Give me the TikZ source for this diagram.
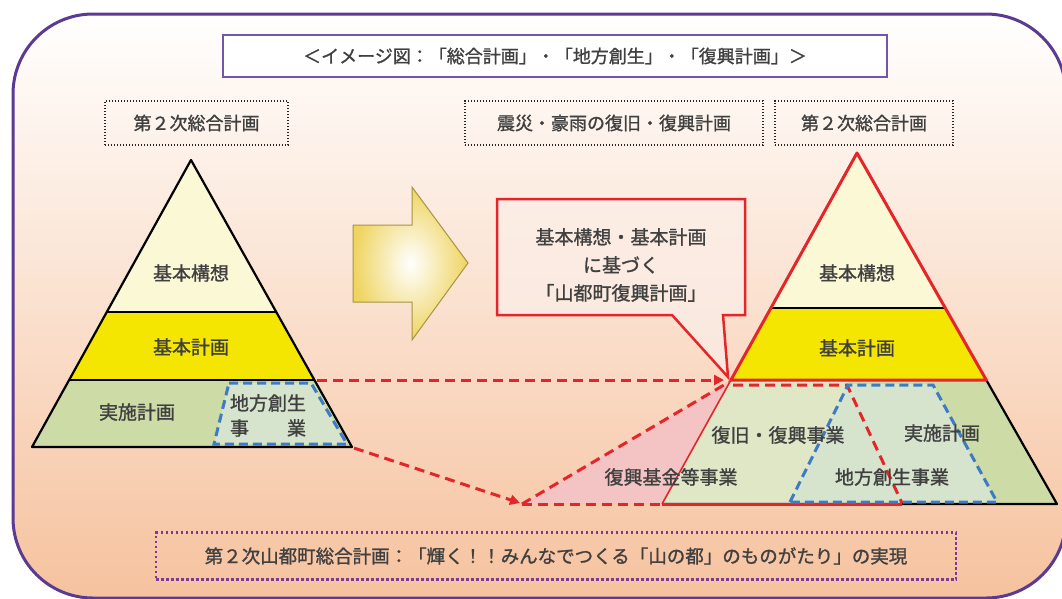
\documentclass[tikz,border=0pt]{standalone}
\usepackage{fontspec}
\setmainfont{Noto Sans CJK JP}[FakeBold=1.2]
\usetikzlibrary{calc,arrows.meta}
\definecolor{txt}{HTML}{404040}
\definecolor{frame}{HTML}{5B3A93}
\definecolor{tbox}{HTML}{7257A8}
\definecolor{cream}{HTML}{FBF8D6}
\definecolor{yel}{HTML}{F4E600}
\definecolor{grn}{HTML}{CDDCA6}
\definecolor{pgrn}{HTML}{DFE7C6}
\definecolor{bgrn}{HTML}{D6E4CE}
\definecolor{rred}{HTML}{E4262A}
\definecolor{bblue}{HTML}{3D7CC4}
\definecolor{pink}{HTML}{F4C4C4}
\definecolor{peach}{HTML}{F6C29E}
\definecolor{peachmid}{HTML}{FADDCC}
\definecolor{ppl}{HTML}{7A3A9A}
\definecolor{arrowyel}{HTML}{EFD460}
\definecolor{callfill}{HTML}{FBEEE8}
\begin{document}
\begin{tikzpicture}[x=1pt,y=-1pt,
  lbl/.style={font=\fontsize{19}{22}\selectfont, text=txt, inner sep=0},
  boxlbl/.style={font=\fontsize{18}{22}\selectfont, text=txt, inner sep=0},
  dotbox/.style={draw=black!85, line width=2, dash pattern=on 1.4pt off 1.6pt},
  pyline/.style={draw=black, line width=2.2, line join=round},
  redline/.style={draw=rred, line width=3, line join=round},
  reddash/.style={draw=rred, line width=3, dash pattern=on 10pt off 6pt},
  bluedash/.style={draw=bblue, line width=3, dash pattern=on 9pt off 5pt},
  tip/.style={-{Triangle[length=10pt,width=10pt]}}
]
\useasboundingbox (0,0) rectangle (1062,598);
\fill[white] (0,0) rectangle (1062,598);
% outer frame
\shade[top color=white, middle color=peachmid, bottom color=peach, rounded corners=80]
  (13,14) rectangle (1066,598);
\draw[frame, line width=3, rounded corners=80] (13,14) rectangle (1066,598);

% title
\node[draw=tbox, line width=2.5, fill=white, minimum width=664, minimum height=42, inner sep=0,
  font=\fontsize{18}{22}\selectfont, text=txt] (title) at (555,56)
  {＜イメージ図：「総合計画」・「地方創生」・「復興計画」＞};

% dotted boxes
\node[dotbox, minimum width=183, minimum height=44, inner sep=0] (box1) at (196.5,123) {};
\node[boxlbl] (t1) at (box1.center) {第２次総合計画};
\node[dotbox, minimum width=298, minimum height=44, inner sep=0] (box2) at (614,123) {};
\node[boxlbl] (t2) at (box2.center) {震災・豪雨の復旧・復興計画};
\node[dotbox, minimum width=178, minimum height=44, inner sep=0] (box3) at (864,123) {};
\node[boxlbl] (t3) at (box3.center) {第２次総合計画};

% left pyramid
\coordinate (LA) at (191,160);
\coordinate (LL) at (32,447);
\coordinate (LR) at (352,447);
\coordinate (L1l) at (106.8,312);
\coordinate (L1r) at (276.3,312);
\coordinate (L2l) at (69.1,380);
\coordinate (L2r) at (314.4,380);
\fill[cream] (LA) -- (L1r) -- (L1l) -- cycle;
\fill[yel] (L1l) -- (L1r) -- (L2r) -- (L2l) -- cycle;
\fill[grn] (L2l) -- (L2r) -- (LR) -- (LL) -- cycle;
\fill[bgrn] (229,383) -- (311,383) -- (347,444) -- (214,444) -- cycle;
\draw[bluedash] (229,383) -- (311,383) -- (347,444) -- (214,444) -- cycle;
\draw[pyline] (LA) -- (LR) -- (LL) -- cycle;
\draw[pyline] (L1l) -- (L1r);
\draw[pyline] (L2l) -- (L2r);
\node[lbl] (lk1) at (191,273) {基本構想};
\node[lbl] (lk2) at (191,347) {基本計画};
\node[lbl] (lk3) at (137,412) {実施計画};
\node[lbl] (lk4) at (268,403) {地方創生};
\node[lbl] (lk5) at (268,428) {事\hspace{2em}業};

% block arrow
\shade[inner color=white, outer color=arrowyel, draw=arrowyel!70!black, line width=1]
  (353,225) -- (412,225) -- (412,187) -- (468,263) -- (412,340) -- (412,302) -- (353,302) -- cycle;

% right pyramid
\coordinate (RA) at (857,153);
\coordinate (RL) at (662,504);
\coordinate (RR) at (1057,504);
\coordinate (R1l) at (770.9,308);
\coordinate (R1r) at (945.3,308);
\coordinate (R2l) at (730.9,380);
\coordinate (R2r) at (986.3,380);
\coordinate (P0) at (522,504);
% pink triangle
\fill[pink] (P0) -- (R2l) -- (RL) -- cycle;
\fill[cream] (RA) -- (R1r) -- (R1l) -- cycle;
\fill[yel] (R1l) -- (R1r) -- (R2r) -- (R2l) -- cycle;
\fill[grn] (R2l) -- (R2r) -- (RR) -- (RL) -- cycle;
\fill[pgrn] (R2l) -- (847,380) -- (902,504) -- (RL) -- cycle;
\fill[bgrn!85!pgrn] (848,384) -- (933,384) -- (997,504) -- (790,504) -- cycle;
\draw[pyline] (R2r) -- (RR) -- (RL);
\draw[draw=rred, line width=1.6] (R2l) -- (RL);
\draw[redline] (RL) -- (902,504);
\draw[reddash] (733,385) -- (847,385) -- (902,503);
\draw[bluedash] (790,502) -- (848,385) -- (933,385) -- (997,502) -- cycle;
\draw[pyline] (R1l) -- (R1r);
\draw[redline] (R2l) -- (RA) -- (R2r) -- cycle;
\node[lbl] (rk1) at (857,273) {基本構想};
\node[lbl] (rk2) at (857,348) {基本計画};
\node[lbl] (rk3) at (778,435) {復旧・復興事業};
\node[lbl] (rk4) at (942,433) {実施計画};
\node[lbl] (rk5) at (892,477) {地方創生事業};
\node[lbl] (rk6) at (671,477) {復興基金等事業};

% dashed connectors
\coordinate (a1s) at (317,380);
\coordinate (a1e) at (724,380);
\coordinate (a2s) at (354,448);
\coordinate (a2e) at (520,503);
\draw[reddash, tip] (a1s) -- (a1e);
\draw[reddash, tip] (a2s) -- (a2e);
\draw[reddash] (P0) -- (729,382);
\draw[reddash] (P0) -- (RL);

% callout
\draw[draw=rred, line width=2.5, fill=callfill, fill opacity=0.7, line join=miter]
  (497,199) -- (745,199) -- (745,315) -- (723,315) -- (728,377) -- (672,315) -- (497,315) -- cycle;
\node[lbl, align=center, font=\fontsize{19}{28}\selectfont] (call) at (621,265)
  {基本構想・基本計画\\に基づく\\「山都町復興計画」};

% bottom box
\node[draw=ppl, line width=2.5, dash pattern=on 2.5pt off 2.5pt, minimum width=800, minimum height=47, inner sep=0] (bot) at (556,556) {};
\node[font=\fontsize{18.5}{22}\selectfont, text=txt, inner sep=0] (bott) at (bot.center)
  {第２次山都町総合計画：「輝く！！みんなでつくる「山の都」のものがたり」の実現};
\end{tikzpicture}
\end{document}
